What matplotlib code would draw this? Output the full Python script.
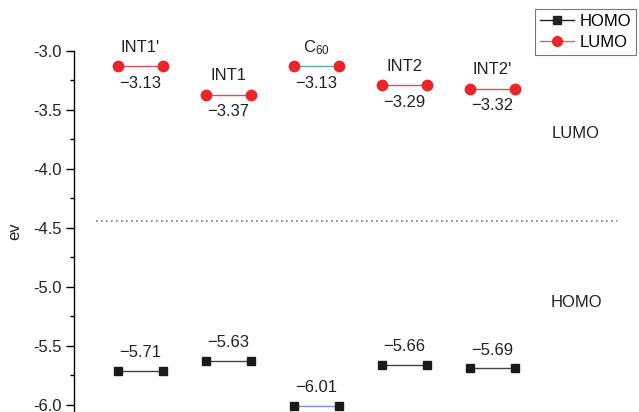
import matplotlib
matplotlib.use("Agg")
import matplotlib.pyplot as plt
from matplotlib.ticker import MultipleLocator
from matplotlib.lines import Line2D

plt.rcParams['font.family'] = ['Liberation Sans', 'DejaVu Sans']
plt.rcParams['mathtext.fontset'] = 'custom'
plt.rcParams['mathtext.rm'] = 'Liberation Sans'
plt.rcParams['mathtext.it'] = 'Liberation Sans'

names = ["INT1'", "INT1", "C$_{60}$", "INT2", "INT2'"]
lumo = [-3.13, -3.37, -3.13, -3.29, -3.32]
homo = [-5.71, -5.63, -6.01, -5.66, -5.69]
lumo_line_colors = ['#e05050', '#e05050', '#5fa8a8', '#e05050', '#e05050']
homo_line_colors = ['#444444', '#444444', '#8888cc', '#444444', '#444444']
fermi = -4.44
ytick_vals = [-6.0, -5.5, -5.0, -4.5, -4.0, -3.5, -3.0]
ytick_labels = ['-6.0', '-5.5', '-5.0', '-4.5', '-4.0', '-3.5', '-3.0']

fig = plt.figure(figsize=(6.39, 4.12), dpi=100)
ax = fig.add_axes([74/639, 0, 1 - 74/639, 361/412])

hw = 0.256
red = '#e8262b'
for i, (n, l, h) in enumerate(zip(names, lumo, homo)):
    x = i + 1
    ax.plot([x - hw, x + hw], [l, l], color=lumo_line_colors[i], lw=1.0, zorder=2, clip_on=False)
    ax.plot([x - hw, x + hw], [l, l], ls='none', marker='o', ms=7.5, color=red, zorder=3, clip_on=False)
    ax.plot([x - hw, x + hw], [h, h], color=homo_line_colors[i], lw=1.0, zorder=2, clip_on=False)
    ax.plot([x - hw, x + hw], [h, h], ls='none', marker='s', ms=6, color='#1a1a1a', zorder=3, clip_on=False)
    ax.text(x, l + 0.16, n, ha='center', va='center', fontsize=12, color='#222222', clip_on=False)
    ax.text(x, l - 0.145, '\u2212%.2f' % abs(l), ha='center', va='center', fontsize=12, color='#222222')
    ax.text(x, h + 0.155, '\u2212%.2f' % abs(h), ha='center', va='center', fontsize=12, color='#222222')

ax.plot([0.494, 6.415], [fermi, fermi], ls=(0, (1, 2)), color='#777777', lw=1.2)

ax.text(5.95, -3.70, 'LUMO', ha='center', va='center', fontsize=12, color='#222222')
ax.text(5.95, -5.13, 'HOMO', ha='center', va='center', fontsize=12, color='#222222')

ax.set_xlim(0.244, 6.665)
ax.set_ylim(-6.06, -3.0)
ax.yaxis.set_minor_locator(MultipleLocator(0.25))
ax.set_yticks(ytick_vals)
ax.set_yticklabels(ytick_labels)
ax.tick_params(axis='y', which='major', length=6, width=1, labelsize=12, labelcolor='#222222', pad=3)
ax.tick_params(axis='y', which='minor', length=3, width=1)
ax.set_xticks([])
for s in ['top', 'right', 'bottom']:
    ax.spines[s].set_visible(False)
ax.spines['left'].set_linewidth(1.0)
ax.set_ylabel('ev', fontsize=12, color='#222222', labelpad=8)

handles = [Line2D([], [], color='#222222', marker='s', ms=6, lw=1),
           Line2D([], [], color='#e86060', marker='o', mfc=red, mec=red, ms=7, lw=1)]
leg = fig.legend(handles, ['HOMO', 'LUMO'], loc='upper right', bbox_to_anchor=(636/639, 1 - 9/412),
                 fontsize=12, frameon=True, fancybox=False, edgecolor='#555555', borderpad=0.3,
                 handlelength=2.0, handletextpad=0.35, labelspacing=0.38, borderaxespad=0)
leg.get_frame().set_linewidth(0.8)

fig.savefig('out.png', dpi=100)
